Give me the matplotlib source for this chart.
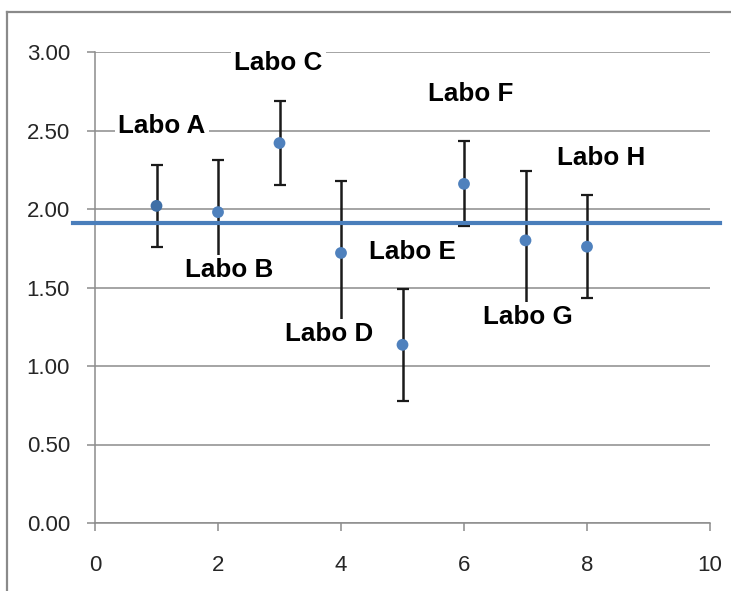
import matplotlib
matplotlib.use("Agg")
import matplotlib.pyplot as plt
from matplotlib.lines import Line2D

# ---- data ----
labs = ["Labo A", "Labo B", "Labo C", "Labo D", "Labo E", "Labo F", "Labo G", "Labo H"]
x_pos = [1, 2, 3, 4, 5, 6, 7, 8]
values = [2.02, 1.98, 2.42, 1.72, 1.135, 2.16, 1.80, 1.76]
errors = [0.26, 0.33, 0.27, 0.46, 0.355, 0.27, 0.44, 0.33]
reference_value = 1.91
y_ticks = [0.0, 0.5, 1.0, 1.5, 2.0, 2.5, 3.0]
y_tick_labels = ["0.00", "0.50", "1.00", "1.50", "2.00", "2.50", "3.00"]
x_ticks = [0, 2, 4, 6, 8, 10]
x_tick_labels = ["0", "2", "4", "6", "8", "10"]

# label anchor positions (left edge, baseline) in data units
label_x = [0.374, 1.463, 2.268, 3.089, 4.455, 5.415, 6.309, 7.512]
label_y = [2.484, 1.567, 2.885, 1.159, 1.682, 2.688, 1.268, 2.280]

grid_col = "#8c8c8c"
marker_col = "#4f81bd"
marker_cols = ["#3f6fa6"] + [marker_col] * 7
line_col = "#4a7ebb"

fig = plt.figure(figsize=(7.31, 5.91), dpi=100)
fig.patch.set_facecolor("white")

# outer chart border (top and left visible)
fig.add_artist(Line2D([7 / 731, 1.0], [1 - 12 / 591, 1 - 12 / 591],
                      transform=fig.transFigure, color="#8a8a8a", lw=1.6))
fig.add_artist(Line2D([7 / 731, 7 / 731], [0.0, 1 - 12 / 591],
                      transform=fig.transFigure, color="#8a8a8a", lw=1.6))

ax = fig.add_axes([95 / 731, 68 / 591, 615 / 731, 471 / 591])
ax.set_xlim(0, 10)
ax.set_ylim(0, 3)

for s in ["top", "right"]:
    ax.spines[s].set_visible(False)
for s in ["left", "bottom"]:
    ax.spines[s].set_color(grid_col)
    ax.spines[s].set_linewidth(1.1)

ax.set_yticks(y_ticks)
ax.set_yticklabels(y_tick_labels)
ax.set_xticks(x_ticks)
ax.set_xticklabels(x_tick_labels)
ax.tick_params(axis="y", direction="out", length=6, width=1.1, color=grid_col,
               pad=12, labelsize=16, labelcolor="#262626")
ax.tick_params(axis="x", direction="out", length=6, width=1.1, color=grid_col,
               pad=17, labelsize=16, labelcolor="#262626")
for t in ax.get_xticklabels() + ax.get_yticklabels():
    t.set_fontfamily("Liberation Sans")

ax.yaxis.grid(True, color=grid_col, linewidth=1.1, zorder=0)
ax.set_axisbelow(True)

# error bars
ax.errorbar(x_pos, values, yerr=errors, fmt="none", ecolor="#1a1a1a",
            elinewidth=1.8, capsize=4, capthick=1.6, zorder=3)

# reference line extending slightly past the plot area
ax.axhline(reference_value, xmin=-0.036, xmax=1.016, color=line_col,
           lw=3.0, clip_on=False, zorder=4)

# markers
ax.scatter(x_pos, values, s=72, color=marker_cols, zorder=5, linewidths=0)

# labels with white boxes
for name, lx, ly in zip(labs, label_x, label_y):
    ax.text(lx, ly, name, ha="left", va="baseline", fontsize=18.7,
            fontweight="bold", family="Liberation Sans", color="black",
            bbox=dict(facecolor="white", edgecolor="none", pad=2.5), zorder=6)

fig.savefig("out.png", dpi=100, facecolor="white")
